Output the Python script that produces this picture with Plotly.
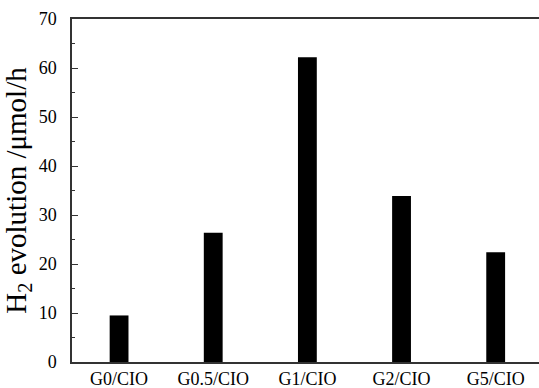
import plotly.graph_objects as go

# Photocatalytic H2 evolution rates of the composite samples
samples = ["G0/CIO", "G0.5/CIO", "G1/CIO", "G2/CIO", "G5/CIO"]
h2_rate = [9.5, 26.4, 62.2, 33.9, 22.4]
y_ticks = [0, 10, 20, 30, 40, 50, 60, 70]

font_family = "Liberation Serif"
axis_color = "#333333"

fig = go.Figure(
    go.Bar(
        x=list(range(len(samples))),
        y=h2_rate,
        width=0.2,
        marker=dict(color="black", line=dict(width=0)),
    )
)

fig.update_layout(
    width=539,
    height=388,
    margin=dict(l=72, r=0, t=19, b=26),
    paper_bgcolor="white",
    plot_bgcolor="white",
    showlegend=False,
    font=dict(family=font_family, color="black", size=18),
)

fig.update_xaxes(
    range=[-0.5, 4.46],
    tickmode="array",
    tickvals=list(range(len(samples))),
    ticktext=samples,
    ticks="",
    showline=True,
    linecolor=axis_color,
    linewidth=1.5,
    mirror=True,
    showgrid=False,
    zeroline=False,
    tickfont=dict(size=18),
)

fig.update_yaxes(
    range=[0, 70],
    tickmode="array",
    tickvals=y_ticks,
    ticks="inside",
    ticklen=6,
    tickwidth=1.2,
    tickcolor=axis_color,
    minor=dict(dtick=5, ticks="inside", ticklen=3.5, tickwidth=1.2, tickcolor=axis_color),
    showline=True,
    linecolor=axis_color,
    linewidth=1.5,
    showgrid=False,
    zeroline=False,
    tickfont=dict(size=18),
    ticklabelstandoff=10,
    title=dict(
        text="H<sub>2</sub> evolution /μmol/h",
        font=dict(size=29, family=font_family),
        standoff=4,
    ),
)

fig.write_html("out.html")
